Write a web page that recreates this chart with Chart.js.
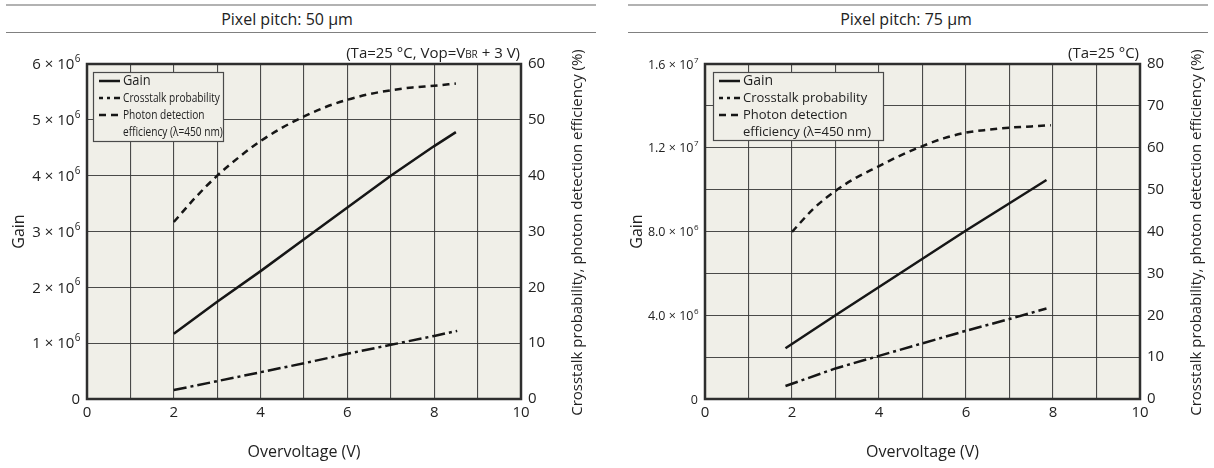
<!DOCTYPE html>
<html>
<head>
<meta charset="utf-8">
<script src="https://cdn.jsdelivr.net/npm/chart.js@4.4.1/dist/chart.umd.min.js"></script>
<style>
  html, body { margin: 0; padding: 0; background: #fff; }
  #wrap { position: relative; width: 1214px; height: 468px; overflow: hidden; font-family: "Open Sans", sans-serif; color: #222; }
  canvas { position: absolute; top: 0; }
  .rule { position: absolute; height: 0; }
  .rule.top { border-top: 2px solid #b2b2b2; top: 4px; }
  .rule.mid { border-top: 1px solid #808080; top: 32px; }
  .ptitle { position: absolute; top: 8px; font-size: 16px; line-height: 22px; white-space: nowrap; transform: translateX(-50%); }
</style>
</head>
<body>
<div id="wrap">
  <div class="rule top" style="left:6px;width:590px"></div>
  <div class="rule mid" style="left:6px;width:590px"></div>
  <div class="ptitle" style="left:287px">Pixel pitch: 50 µm</div>

  <div class="rule top" style="left:628px;width:580px"></div>
  <div class="rule mid" style="left:628px;width:580px"></div>
  <div class="ptitle" style="left:906px">Pixel pitch: 75 µm</div>

  <canvas id="chart50" width="607" height="468" style="left:0"></canvas>
  <canvas id="chart75" width="607" height="468" style="left:607px"></canvas>
</div>

<script>
// ---------- Pixel pitch 50 µm ----------
const gainVoltage50 = [2, 3, 4, 5, 6, 7, 8, 8.5];
const gain50 = [1.17e6, 1.74e6, 2.29e6, 2.86e6, 3.43e6, 4.0e6, 4.53e6, 4.78e6];
const crosstalkVoltage50 = [2, 3, 4, 5, 6, 7, 8, 8.53];
const crosstalk50 = [1.6, 3.2, 4.8, 6.4, 8.1, 9.7, 11.3, 12.2];
const pdeVoltage50 = [2, 2.5, 3, 3.5, 4, 4.5, 5, 5.5, 6, 6.5, 7, 7.5, 8, 8.5];
const pde50 = [31.7, 36.1, 40.0, 43.3, 46.2, 48.6, 50.6, 52.3, 53.6, 54.6, 55.3, 55.8, 56.1, 56.5];
const gainTickValues50 = [0, 1e6, 2e6, 3e6, 4e6, 5e6, 6e6];
const gainTickLabels50 = ['0', '1 × 10^6', '2 × 10^6', '3 × 10^6', '4 × 10^6', '5 × 10^6', '6 × 10^6'];
const pctTickValues50 = [0, 10, 20, 30, 40, 50, 60];
const pctTickLabels50 = ['0', '10', '20', '30', '40', '50', '60'];

// ---------- Pixel pitch 75 µm ----------
const gainVoltage75 = [1.85, 3, 4, 5, 6, 7, 7.85];
const gain75 = [2.42e6, 4.0e6, 5.35e6, 6.7e6, 8.05e6, 9.35e6, 10.46e6];
const crosstalkVoltage75 = [1.85, 3, 4, 5, 6, 7, 7.85];
const crosstalk75 = [3.1, 7.3, 10.3, 13.3, 16.3, 19.1, 21.6];
const pdeVoltage75 = [2, 2.5, 3, 3.5, 4, 4.5, 5, 5.5, 6, 6.5, 7, 7.5, 7.95];
const pde75 = [39.9, 45.5, 49.7, 53.0, 55.6, 58.2, 60.4, 62.3, 63.6, 64.3, 64.8, 65.1, 65.4];
const gainTickValues75 = [0, 4e6, 8e6, 1.2e7, 1.6e7];
const gainTickLabels75 = ['0', '4.0 × 10^6', '8.0 × 10^6', '1.2 × 10^7', '1.6 × 10^7'];
const pctTickValues75 = [0, 10, 20, 30, 40, 50, 60, 70, 80];
const pctTickLabels75 = ['0', '10', '20', '30', '40', '50', '60', '70', '80'];

// ---------- shared ----------
const xTickValues = [0, 2, 4, 6, 8, 10];
const xTickLabels = ['0', '2', '4', '6', '8', '10'];
const legendLines = ['Gain', 'Crosstalk probability', 'Photon detection', 'efficiency (λ=450 nm)'];

const FONT = '"Open Sans", "Noto Sans", sans-serif';
const INK = '#222';
const LINE = '#161616';
const PLOT_BG = '#f0efe8';
const GRID = 'rgba(55,55,55,0.9)';

const toPoints = (xs, ys) => xs.map((x, i) => ({ x, y: ys[i] }));

function drawGainTick(ctx, label, xRight, y, size) {
  const [base, exp] = label.split('^');
  const expSize = Math.round(size * 0.66);
  ctx.font = `${size}px ${FONT}`;
  const wBase = ctx.measureText(base).width;
  ctx.font = `${expSize}px ${FONT}`;
  const wExp = exp ? ctx.measureText(exp).width : 0;
  const x0 = xRight - wBase - wExp;
  ctx.textAlign = 'left';
  ctx.textBaseline = 'middle';
  ctx.fillStyle = INK;
  ctx.font = `${size}px ${FONT}`;
  ctx.fillText(base, x0, y);
  if (exp) {
    ctx.font = `${expSize}px ${FONT}`;
    ctx.fillText(exp, x0 + wBase + 0.5, y - size * 0.38);
  }
}

// Plot background, frame, in-plot legend, condition note, gain tick labels, right axis title
const plotDecor = {
  id: 'plotDecor',
  beforeDraw(chart) {
    const { ctx, chartArea: a } = chart;
    ctx.save();
    ctx.fillStyle = PLOT_BG;
    ctx.fillRect(a.left, a.top, a.right - a.left, a.bottom - a.top);
    ctx.restore();
  },
  afterDatasetsDraw(chart, args, o) {
    const { ctx, chartArea: a } = chart;
    const yScale = chart.scales.y;
    ctx.save();

    // frame
    ctx.strokeStyle = '#2e2e2e';
    ctx.lineWidth = 2.5;
    ctx.strokeRect(a.left, a.top, a.right - a.left, a.bottom - a.top);

    // legend
    const L = o.legend;
    const lx = a.left + L.dx, ly = a.top + L.dy;
    ctx.fillStyle = PLOT_BG;
    ctx.fillRect(lx, ly, L.w, L.h);
    ctx.strokeStyle = '#4a4a4a';
    ctx.lineWidth = 1.2;
    ctx.strokeRect(lx + 0.5, ly + 0.5, L.w, L.h);
    const dsets = chart.data.datasets;
    legendLines.forEach((text, i) => {
      const ry = ly + L.rowY[i];
      const ds = i < 3 ? dsets[i] : null;
      if (ds) {
        ctx.beginPath();
        ctx.setLineDash(ds.borderDash || []);
        ctx.lineDashOffset = ds.legendDashOffset || 0;
        ctx.lineWidth = ds.borderWidth;
        ctx.strokeStyle = ds.borderColor;
        ctx.moveTo(lx + L.s0, ry);
        ctx.lineTo(lx + L.s1, ry);
        ctx.stroke();
        ctx.setLineDash([]);
        ctx.lineDashOffset = 0;
      }
      ctx.save();
      ctx.translate(lx + L.tx, ry);
      ctx.scale(L.squeeze[i], 1);
      ctx.font = `${L.size[i]}px ${FONT}`;
      ctx.textAlign = 'left';
      ctx.textBaseline = 'middle';
      ctx.fillStyle = INK;
      ctx.fillText(text, 0, 0);
      ctx.restore();
    });

    // condition note above the plot, right aligned
    const parts = o.note;
    let total = 0;
    parts.forEach(p => { ctx.font = `${p.size}px ${FONT}`; p.w = ctx.measureText(p.t).width; total += p.w; });
    let nx = a.right - 1 - total;
    const ny = a.top - 6;
    ctx.textAlign = 'left';
    ctx.textBaseline = 'alphabetic';
    ctx.fillStyle = INK;
    parts.forEach(p => { ctx.font = `${p.size}px ${FONT}`; ctx.fillText(p.t, nx, ny); nx += p.w; });

    // gain tick labels with exponents
    o.gainTicks.forEach((v, i) => {
      drawGainTick(ctx, o.gainLabels[i], a.left - 7, yScale.getPixelForValue(v) + 1, o.gainTickSize);
    });

    // right axis title, reading bottom to top
    ctx.save();
    ctx.translate(a.right + 57, (a.top + a.bottom) / 2 + 1);
    ctx.rotate(-Math.PI / 2);
    ctx.font = `15px ${FONT}`;
    ctx.textAlign = 'center';
    ctx.textBaseline = 'middle';
    ctx.fillStyle = INK;
    ctx.fillText('Crosstalk probability, photon detection efficiency (%)', 0, 0);
    ctx.restore();

    ctx.restore();
  }
};

function buildChart(id, s) {
  const datasets = [
    { label: 'Gain', data: toPoints(s.gainV, s.gain), yAxisID: 'y',
      borderColor: LINE, borderWidth: 2.5, borderDash: [], pointRadius: 0, tension: 0 },
    { label: 'Crosstalk probability', data: toPoints(s.ctV, s.ct), yAxisID: 'y2',
      borderColor: LINE, borderWidth: 2.5, borderDash: [13, 4, 3, 4], legendDashOffset: 9,
      pointRadius: 0, tension: 0 },
    { label: 'Photon detection efficiency (λ=450 nm)', data: toPoints(s.pdeV, s.pde), yAxisID: 'y2',
      borderColor: LINE, borderWidth: 2.5, borderDash: [7, 5], pointRadius: 0,
      cubicInterpolationMode: 'monotone' }
  ];
  return new Chart(document.getElementById(id), {
    type: 'line',
    data: { datasets },
    plugins: [plotDecor],
    options: {
      responsive: false,
      animation: false,
      devicePixelRatio: 1,
      layout: { padding: { top: 64, left: 0, right: 0, bottom: 0 } },
      plugins: {
        legend: { display: false },
        tooltip: { enabled: false },
        plotDecor: {
          legend: s.legend,
          note: s.note,
          gainTicks: s.gainTicks,
          gainLabels: s.gainLabels,
          gainTickSize: s.gainTickSize
        }
      },
      scales: {
        x: {
          type: 'linear', min: 0, max: 10,
          afterFit: sc => { sc.height = 69; },
          border: { display: false },
          grid: { color: GRID, lineWidth: 1.1, drawTicks: false },
          ticks: {
            stepSize: 1, padding: 5, autoSkip: false, maxRotation: 0,
            color: INK, font: { family: FONT, size: 15 },
            callback: v => { const k = xTickValues.indexOf(v); return k >= 0 ? xTickLabels[k] : ''; }
          },
          title: { display: true, text: 'Overvoltage (V)', color: INK,
                   font: { family: FONT, size: 16 }, padding: { top: 0, bottom: 6 } }
        },
        y: {
          type: 'linear', position: 'left', min: 0, max: s.gainMax,
          afterFit: sc => { sc.width = s.leftW; },
          border: { display: false },
          grid: { color: GRID, lineWidth: 1.1, drawTicks: false },
          ticks: { stepSize: s.gainStep, display: false },
          title: { display: true, text: 'Gain', color: INK,
                   font: { family: FONT, size: 16 }, padding: { top: s.gainTitlePad, bottom: 0 } }
        },
        y2: {
          type: 'linear', position: 'right', min: 0, max: s.pctMax,
          afterFit: sc => { sc.width = 607 - s.plotRight; },
          border: { display: false },
          grid: { display: false, drawTicks: false },
          ticks: {
            stepSize: 10, padding: 7, color: INK, font: { family: FONT, size: 15 },
            callback: v => { const k = s.pctTicks.indexOf(v); return k >= 0 ? s.pctLabels[k] : ''; }
          }
        }
      }
    }
  });
}

buildChart('chart50', {
  gainV: gainVoltage50, gain: gain50,
  ctV: crosstalkVoltage50, ct: crosstalk50,
  pdeV: pdeVoltage50, pde: pde50,
  gainMax: 6e6, gainStep: 1e6, pctMax: 60,
  gainTicks: gainTickValues50, gainLabels: gainTickLabels50, gainTickSize: 15,
  pctTicks: pctTickValues50, pctLabels: pctTickLabels50,
  leftW: 87, plotRight: 521, gainTitlePad: 10,
  legend: { dx: 6, dy: 8, w: 130, h: 69, rowY: [9, 26, 43, 60], s0: 6, s1: 27, tx: 30,
            size: [14, 13, 13, 13], squeeze: [0.92, 0.78, 0.78, 0.78] },
  note: [{ t: '(Ta=25 °C, Vop=V', size: 15 }, { t: 'BR', size: 10 }, { t: ' + 3 V)', size: 15 }]
});

buildChart('chart75', {
  gainV: gainVoltage75, gain: gain75,
  ctV: crosstalkVoltage75, ct: crosstalk75,
  pdeV: pdeVoltage75, pde: pde75,
  gainMax: 1.6e7, gainStep: 2e6, pctMax: 80,
  gainTicks: gainTickValues75, gainLabels: gainTickLabels75, gainTickSize: 12.5,
  pctTicks: pctTickValues75, pctLabels: pctTickLabels75,
  leftW: 98, plotRight: 533, gainTitlePad: 21,
  legend: { dx: 8, dy: 8, w: 170, h: 68, rowY: [9, 26, 43, 60], s0: 6, s1: 27, tx: 30,
            size: [14, 13, 13, 13], squeeze: [1, 1, 1, 1] },
  note: [{ t: '(Ta=25 °C)', size: 15 }]
});
</script>
</body>
</html>
